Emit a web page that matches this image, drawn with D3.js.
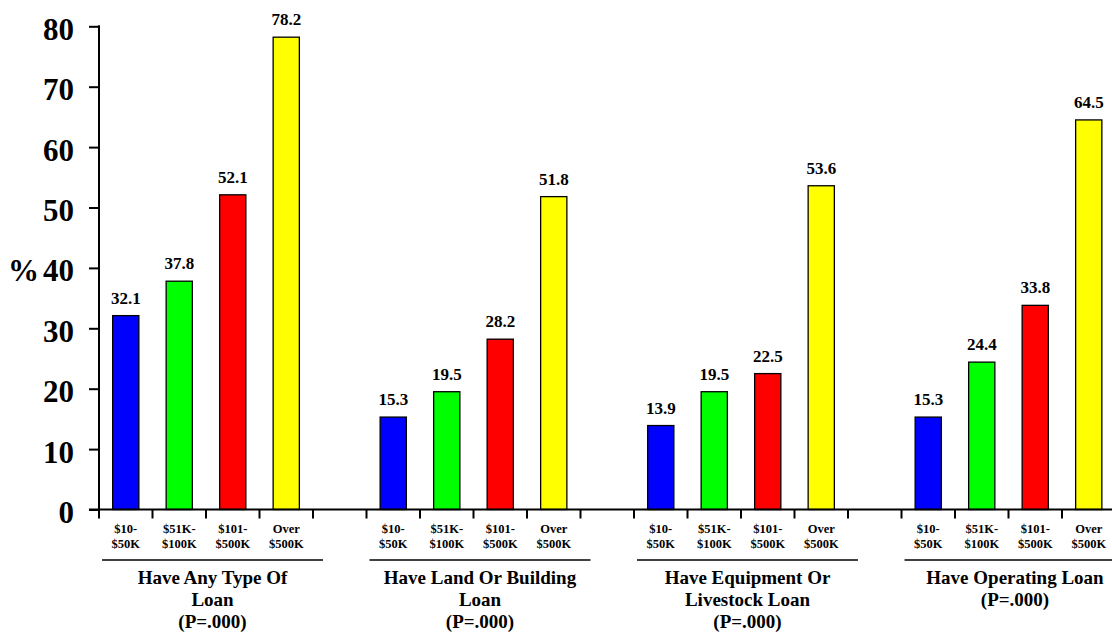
<!DOCTYPE html>
<html>
<head>
<meta charset="utf-8">
<script src="https://cdn.jsdelivr.net/npm/d3@7"></script>
<style>
  html, body { margin: 0; padding: 0; background: #fff; }
  svg { display: block; }
  text { font-family: "Liberation Serif", "Times New Roman", serif; font-weight: bold; fill: #000; }
</style>
</head>
<body>
<svg id="chart" width="1112" height="633"></svg>
<script>
// ---- data ----
const groups = [
  ["Have Any Type Of", "Loan", "(P=.000)"],
  ["Have Land Or Building", "Loan", "(P=.000)"],
  ["Have Equipment Or", "Livestock Loan", "(P=.000)"],
  ["Have Operating Loan", "(P=.000)"]
];
const incomeClasses = [["$10-", "$50K"], ["$51K-", "$100K"], ["$101-", "$500K"], ["Over", "$500K"]];
const colors = ["#0000ff", "#00ff00", "#ff0000", "#ffff00"];
const values = [
  [32.1, 37.8, 52.1, 78.2],
  [15.3, 19.5, 28.2, 51.8],
  [13.9, 19.5, 22.5, 53.6],
  [15.3, 24.4, 33.8, 64.5]
];
const yTicks = [0, 10, 20, 30, 40, 50, 60, 70, 80];

// ---- layout ----
const svg = d3.select("#chart");
const left = 99, slotW = 53.5, nSlots = 19;
const x = d3.scaleBand().domain(d3.range(nSlots)).range([left, left + nSlots * slotW]).padding(0);
const y = d3.scaleLinear().domain([0, 80]).range([509.5, 26.3]);
const barW = x.bandwidth() * 0.49;

const bars = [];
values.forEach((vals, g) => vals.forEach((v, k) => {
  bars.push({ g, k, v, slot: g * 5 + k });
}));

// y axis
const yAxis = svg.append("g").attr("transform", `translate(${left},0)`)
  .call(d3.axisLeft(y).tickValues(yTicks).tickFormat(d3.format("d")).tickSize(10).tickPadding(15));
yAxis.select(".domain").remove();
yAxis.selectAll(".tick line").attr("stroke", "#000").attr("stroke-width", 2);
yAxis.selectAll(".tick text").attr("font-size", 31).attr("dy", "0.42em")
  .style("font-family", '"Liberation Serif", "Times New Roman", serif').style("font-weight", "bold");
svg.append("line").attr("x1", left).attr("x2", left).attr("y1", y(80) - 1).attr("y2", y(0))
  .attr("stroke", "#000").attr("stroke-width", 2);

svg.append("text").attr("x", 23.5).attr("y", y(40)).attr("dy", "0.42em")
  .attr("text-anchor", "middle").attr("font-size", 31).text("%");

// bars
svg.selectAll("rect.bar").data(bars).join("rect").attr("class", "bar")
  .attr("x", d => x(d.slot) + (x.bandwidth() - barW) / 2)
  .attr("width", barW)
  .attr("y", d => y(d.v))
  .attr("height", d => y(0) - y(d.v))
  .attr("fill", d => colors[d.k])
  .attr("stroke", "#000").attr("stroke-width", 1.3);

// value labels
svg.selectAll("text.val").data(bars).join("text").attr("class", "val")
  .attr("x", d => x(d.slot) + x.bandwidth() / 2)
  .attr("y", d => y(d.v) - 12)
  .attr("text-anchor", "middle").attr("font-size", 17)
  .text(d => d.v.toFixed(1));

// x axis line + ticks
svg.append("line").attr("x1", 89).attr("x2", 1112).attr("y1", y(0)).attr("y2", y(0))
  .attr("stroke", "#000").attr("stroke-width", 2);
svg.selectAll("line.xt").data(d3.range(nSlots)).join("line").attr("class", "xt")
  .attr("x1", d => x(d)).attr("x2", d => x(d))
  .attr("y1", y(0)).attr("y2", y(0) + 9)
  .attr("stroke", "#000").attr("stroke-width", 2);

// category labels
const cat = svg.selectAll("text.cat").data(bars).join("text").attr("class", "cat")
  .attr("text-anchor", "middle").attr("font-size", 12.5);
cat.each(function(d) {
  const cx = x(d.slot) + x.bandwidth() / 2;
  incomeClasses[d.k].forEach((line, i) => {
    d3.select(this).append("tspan").attr("x", cx).attr("y", 532.5 + i * 15.3).text(line);
  });
});

// group underlines + labels
groups.forEach((lines, g) => {
  const x0 = x(g * 5) + 3;
  const x1 = x0 + 221;
  svg.append("line").attr("x1", x0).attr("x2", x1).attr("y1", 560).attr("y2", 560)
    .attr("stroke", "#000").attr("stroke-width", 1.6);
  const t = svg.append("text").attr("text-anchor", "middle").attr("font-size", 19);
  lines.forEach((line, i) => {
    t.append("tspan").attr("x", (x0 + x1) / 2).attr("y", 584 + i * 22).text(line);
  });
});
</script>
</body>
</html>
